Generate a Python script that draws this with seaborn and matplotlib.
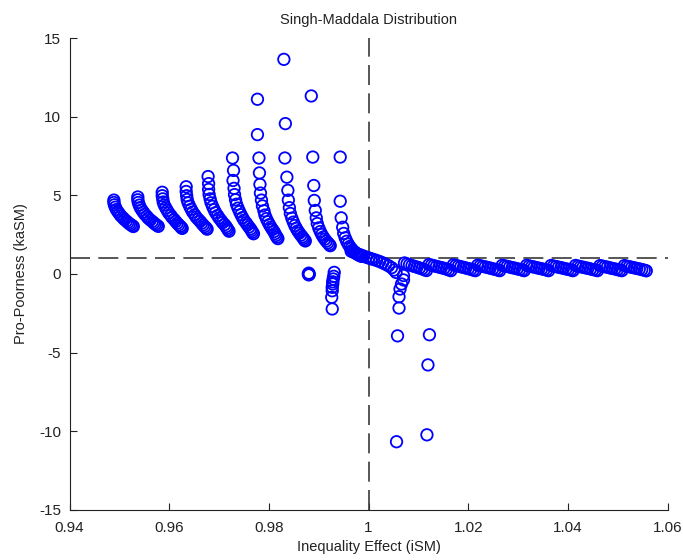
import matplotlib
matplotlib.use("Agg")
import matplotlib.pyplot as plt
import seaborn as sns
import pandas as pd

# === 1. Data ===
# left arcs (one arc per inequality step)
left_x = [
    0.9489, 0.9489, 0.9490, 0.9492, 0.9494, 0.9497, 0.9500, 0.9503, 0.9507, 0.9510, 0.9514, 0.9517, 0.9520, 0.9523, 0.9526, 0.9528,
    0.9537, 0.9537, 0.9538, 0.9540, 0.9542, 0.9545, 0.9548, 0.9551, 0.9555, 0.9558, 0.9562, 0.9566, 0.9569, 0.9572, 0.9575, 0.9578,
    0.9586, 0.9586, 0.9587, 0.9588, 0.9590, 0.9593, 0.9596, 0.9599, 0.9603, 0.9606, 0.9610, 0.9613, 0.9616, 0.9619, 0.9622, 0.9624, 0.9626,
    0.9634, 0.9634, 0.9635, 0.9636, 0.9638, 0.9641, 0.9644, 0.9647, 0.9651, 0.9654, 0.9658, 0.9662, 0.9665, 0.9668, 0.9671, 0.9674, 0.9676,
    0.9678, 0.9679, 0.9679, 0.9680, 0.9682, 0.9684, 0.9687, 0.9690, 0.9693, 0.9697, 0.9700, 0.9704, 0.9707, 0.9711, 0.9714, 0.9716, 0.9718, 0.9720,
    0.9727, 0.9729, 0.9728, 0.9730, 0.9731, 0.9733, 0.9735, 0.9738, 0.9741, 0.9744, 0.9747, 0.9750, 0.9754, 0.9757, 0.9760, 0.9763, 0.9765, 0.9767, 0.9769,
    0.9777, 0.9777, 0.9780, 0.9781, 0.9782, 0.9783, 0.9785, 0.9787, 0.9790, 0.9792, 0.9795, 0.9798, 0.9801, 0.9804, 0.9807, 0.9810, 0.9812, 0.9814, 0.9816, 0.9818,
    0.9830, 0.9833, 0.9832, 0.9836, 0.9838, 0.9839, 0.9841, 0.9843, 0.9846, 0.9849, 0.9852, 0.9855, 0.9858, 0.9861, 0.9864, 0.9867, 0.9869, 0.9871, 0.9873,
    0.9885, 0.9888, 0.9890, 0.9891, 0.9893, 0.9895, 0.9897, 0.9900, 0.9903, 0.9906, 0.9909, 0.9912, 0.9915, 0.9918, 0.9921, 0.9923,
    0.9943, 0.9943, 0.9945, 0.9948, 0.9950, 0.9953, 0.9956, 0.9959, 0.9962, 0.9965, 0.9968, 0.9971, 0.9974, 0.9977, 0.9980, 0.9983, 0.9986,
]
left_y = [
    4.70, 4.55, 4.40, 4.25, 4.10, 3.96, 3.83, 3.70, 3.58, 3.47, 3.37, 3.28, 3.20, 3.13, 3.07, 3.02,
    4.90, 4.72, 4.55, 4.38, 4.22, 4.07, 3.93, 3.80, 3.67, 3.55, 3.44, 3.34, 3.25, 3.17, 3.10, 3.03,
    5.20, 4.98, 4.78, 4.58, 4.39, 4.21, 4.04, 3.88, 3.73, 3.59, 3.46, 3.34, 3.23, 3.13, 3.04, 2.96, 2.90,
    5.55, 5.25, 4.98, 4.74, 4.52, 4.31, 4.12, 3.94, 3.77, 3.62, 3.48, 3.35, 3.23, 3.12, 3.02, 2.93, 2.85,
    6.20, 5.75, 5.38, 5.06, 4.78, 4.53, 4.30, 4.09, 3.90, 3.72, 3.56, 3.41, 3.27, 3.14, 3.02, 2.91, 2.81, 2.72,
    7.38, 6.59, 5.95, 5.45, 5.05, 4.72, 4.44, 4.19, 3.97, 3.77, 3.59, 3.42, 3.26, 3.12, 2.99, 2.87, 2.76, 2.65, 2.56,
    11.12, 8.87, 7.38, 6.43, 5.70, 5.15, 4.70, 4.33, 4.02, 3.75, 3.52, 3.32, 3.14, 2.98, 2.83, 2.70, 2.57, 2.45, 2.34, 2.25,
    13.66, 9.57, 7.38, 6.16, 5.32, 4.70, 4.22, 3.85, 3.55, 3.30, 3.08, 2.90, 2.74, 2.60, 2.47, 2.36, 2.26, 2.17, 2.10,
    11.33, 7.44, 5.63, 4.68, 4.04, 3.57, 3.21, 2.93, 2.70, 2.51, 2.35, 2.21, 2.09, 1.98, 1.88, 1.80,
    7.44, 4.63, 3.57, 2.97, 2.58, 2.30, 2.08, 1.90, 1.75, 1.62, 1.51, 1.42, 1.34, 1.27, 1.21, 1.16, 1.12,
]

# crossing band around (1, 1)
mid_x = [0.9965, 0.9970, 0.9975, 0.9980, 0.9985, 0.9990, 0.9995, 1.0000, 1.0005, 1.0010,
         1.0016, 1.0022, 1.0028, 1.0034, 1.0040, 1.0046, 1.0051, 1.0055]
mid_y = [1.45, 1.38, 1.31, 1.25, 1.19, 1.13, 1.07, 1.02, 0.97, 0.92,
         0.86, 0.79, 0.71, 0.62, 0.52, 0.40, 0.25, 0.10]

# negative outliers
drop_x = [0.9880, 0.9881, 0.9879, 0.9880,
          0.9931, 0.9930, 0.9929, 0.9928, 0.9928, 0.9927, 0.9927, 0.9926, 0.9927,
          1.0070, 1.0070, 1.0066, 1.0063, 1.0061, 1.0061, 1.0058, 1.0056,
          1.0122, 1.0119, 1.0117]
drop_y = [0.05, -0.02, 0.00, -0.06,
          0.10, -0.15, -0.32, -0.50, -0.64, -0.85, -1.07, -1.49, -2.23,
          -0.10, -0.38, -0.64, -0.96, -1.45, -2.17, -3.94, -10.68,
          -3.87, -5.79, -10.24]

# right-hand flat tail
tail_x = [
    1.0072, 1.0077, 1.0082, 1.0087, 1.0092, 1.0097, 1.0102, 1.0107, 1.0112, 1.0116,
    1.0121, 1.0126, 1.0131, 1.0136, 1.0141, 1.0146, 1.0151, 1.0156, 1.0161, 1.0165,
    1.0170, 1.0175, 1.0180, 1.0185, 1.0190, 1.0195, 1.0200, 1.0205, 1.0210, 1.0214,
    1.0219, 1.0224, 1.0229, 1.0234, 1.0239, 1.0244, 1.0249, 1.0254, 1.0259, 1.0263,
    1.0268, 1.0273, 1.0278, 1.0283, 1.0288, 1.0293, 1.0298, 1.0303, 1.0308, 1.0312,
    1.0317, 1.0322, 1.0327, 1.0332, 1.0337, 1.0342, 1.0347, 1.0352, 1.0357, 1.0361,
    1.0366, 1.0371, 1.0376, 1.0381, 1.0386, 1.0391, 1.0396, 1.0401, 1.0406, 1.0410,
    1.0415, 1.0420, 1.0425, 1.0430, 1.0435, 1.0440, 1.0445, 1.0450, 1.0455, 1.0459,
    1.0464, 1.0469, 1.0474, 1.0479, 1.0484, 1.0489, 1.0494, 1.0499, 1.0504, 1.0508,
    1.0513, 1.0518, 1.0523, 1.0528, 1.0533, 1.0538, 1.0543, 1.0548, 1.0553, 1.0557,
]
tail_y = [
    0.70, 0.64, 0.58, 0.53, 0.48, 0.43, 0.38, 0.33, 0.27, 0.22,
    0.60, 0.56, 0.52, 0.48, 0.44, 0.40, 0.36, 0.31, 0.26, 0.21,
    0.58, 0.54, 0.50, 0.46, 0.42, 0.38, 0.34, 0.30, 0.25, 0.21,
    0.56, 0.52, 0.48, 0.45, 0.41, 0.37, 0.33, 0.29, 0.25, 0.21,
    0.55, 0.51, 0.48, 0.44, 0.40, 0.37, 0.33, 0.29, 0.25, 0.21,
    0.55, 0.51, 0.47, 0.44, 0.40, 0.36, 0.33, 0.29, 0.25, 0.21,
    0.54, 0.50, 0.47, 0.43, 0.40, 0.36, 0.32, 0.29, 0.25, 0.21,
    0.54, 0.50, 0.46, 0.43, 0.39, 0.36, 0.32, 0.28, 0.25, 0.21,
    0.53, 0.50, 0.46, 0.43, 0.39, 0.35, 0.32, 0.28, 0.24, 0.21,
    0.53, 0.49, 0.46, 0.42, 0.39, 0.35, 0.32, 0.28, 0.24, 0.20,
]

x_ticks = [0.94, 0.96, 0.98, 1.0, 1.02, 1.04, 1.06]
x_labels = ["0.94", "0.96", "0.98", "1", "1.02", "1.04", "1.06"]
y_ticks = [-15, -10, -5, 0, 5, 10, 15]

df = pd.DataFrame({
    "iSM": left_x + mid_x + drop_x + tail_x,
    "kaSM": left_y + mid_y + drop_y + tail_y,
})

# === 2. Plot ===
sns.set_style("ticks")
plt.rcParams["font.family"] = ["Liberation Sans", "DejaVu Sans"]
plt.rcParams["axes.unicode_minus"] = False

fig = plt.figure(figsize=(6.83, 5.6), dpi=100)
ax = fig.add_axes([0.1018, 0.0900, 0.8758, 0.8416])

ax.axvline(1.0, color="#3a3a3a", lw=1.2, dashes=(12, 5), zorder=1)
ax.axhline(1.0, color="#3a3a3a", lw=1.2, dashes=(12, 5), zorder=1)

sns.scatterplot(data=df, x="iSM", y="kaSM", ax=ax, marker="o", s=68,
                facecolor="none", edgecolor="#0000ff", linewidth=1.3, zorder=2)

ax.set_xlim(0.94, 1.06)
ax.set_ylim(-15, 15)
ax.set_xticks(x_ticks)
ax.set_xticklabels(x_labels)
ax.set_yticks(y_ticks)
ax.tick_params(direction="in", length=5, labelsize=11, colors="#222222", width=0.8)
ax.tick_params(axis="x", pad=8)
ax.tick_params(axis="y", pad=6)
for side in ["top", "right"]:
    ax.spines[side].set_visible(False)
for side in ["left", "bottom"]:
    ax.spines[side].set_color("#222222")
    ax.spines[side].set_linewidth(0.8)

ax.set_title("Singh-Maddala Distribution", fontsize=10.5, color="#222222", pad=10)
ax.set_xlabel("Inequality Effect (iSM)", fontsize=10.5, color="#222222", labelpad=4)
ax.set_ylabel("Pro-Poorness (kaSM)", fontsize=10.5, color="#222222", labelpad=8)

plt.savefig("out.png", dpi=100)
plt.close()
